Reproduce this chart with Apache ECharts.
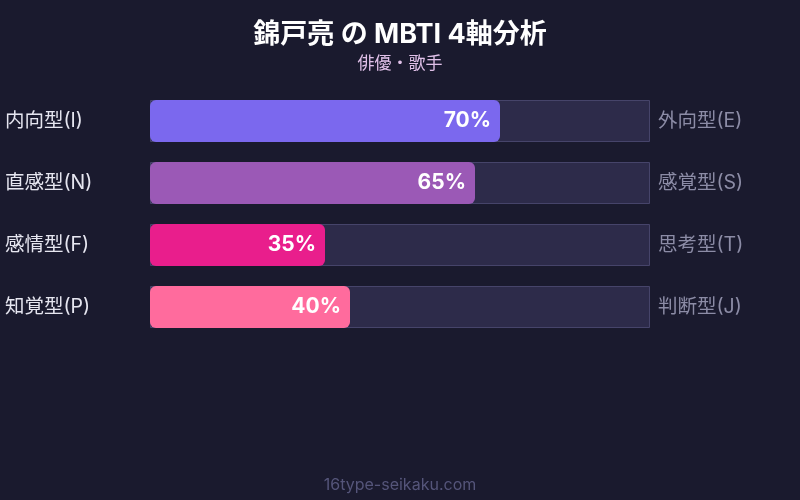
<!DOCTYPE html>
<html>
<head>
<meta charset="utf-8">
<script src="https://cdn.jsdelivr.net/npm/echarts@6/dist/echarts.min.js"></script>
<style>
html,body{margin:0;padding:0;background:#1a1a2e;}
#c{width:800px;height:500px;}
</style>
</head>
<body>
<div id="c"></div>
<script>
const leftLabels = ['内向型(I)', '直感型(N)', '感情型(F)', '知覚型(P)'];
const rightLabels = ['外向型(E)', '感覚型(S)', '思考型(T)', '判断型(J)'];
const values = [70, 65, 35, 40];
const barColors = ['#7b68ee', '#9b59b6', '#e91e8c', '#ff6b9d'];
const trackValues = [100, 100, 100, 100];

const FONT = 'Inter, "Noto Sans CJK JP", sans-serif';
const chart = echarts.init(document.getElementById('c'));
chart.setOption({
  backgroundColor: '#1a1a2e',
  animation: false,
  title: [
    {
      text: '錦戸亮 の MBTI 4軸分析',
      subtext: '俳優・歌手',
      left: 'center',
      top: 16,
      itemGap: 7,
      textStyle: { color: '#ffffff', fontSize: 27, fontWeight: 'bold', fontFamily: FONT },
      subtextStyle: { color: '#e0c0e8', fontSize: 17, fontFamily: FONT }
    },
    {
      text: '16type-seikaku.com',
      left: 'center',
      bottom: 2,
      textStyle: { color: '#55557a', fontSize: 16, fontWeight: 'normal', fontFamily: FONT }
    }
  ],
  grid: { left: 150, right: 150, top: 90, height: 248 },
  xAxis: { type: 'value', min: 0, max: 100, show: false },
  yAxis: [
    {
      type: 'category', data: leftLabels, inverse: true, position: 'left',
      axisLine: { show: false }, axisTick: { show: false },
      axisLabel: { color: '#e6e6f0', fontSize: 19.5, align: 'left', margin: 145, fontFamily: FONT, padding: [0, 0, 6, 0] }
    },
    {
      type: 'category', data: rightLabels, inverse: true, position: 'right',
      axisLine: { show: false }, axisTick: { show: false },
      axisLabel: { color: '#8c8ca6', fontSize: 19.5, align: 'left', margin: 8, fontFamily: FONT, padding: [0, 0, 6, 0] }
    }
  ],
  series: [
    {
      type: 'bar', yAxisIndex: 0, data: trackValues, barWidth: 42, barGap: '-100%',
      itemStyle: { color: '#2d2b4a', borderColor: '#46446a', borderWidth: 1 },
      silent: true, z: 1
    },
    {
      type: 'bar', yAxisIndex: 0, barWidth: 42,
      data: values.map((v, i) => ({ value: v, itemStyle: { color: barColors[i] } })),
      itemStyle: { borderRadius: 6 },
      label: {
        show: true, position: 'insideRight', distance: 9,
        formatter: '{c}%', color: '#ffffff', fontSize: 21, fontWeight: 'bold', fontFamily: FONT,
        padding: [0, 0, 2, 0]
      },
      z: 2
    }
  ]
});
</script>
</body>
</html>
